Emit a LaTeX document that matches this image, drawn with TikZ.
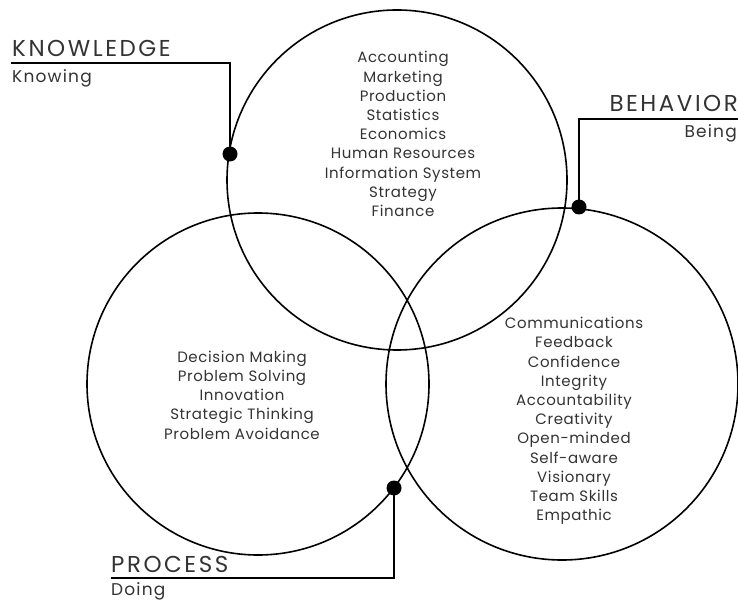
\documentclass[tikz,border=0pt]{standalone}
\usepackage{fontspec}
\setmainfont{Poppins}
\newfontfamily\headfont[LetterSpace=11]{Poppins}
\newfontfamily\subfont[LetterSpace=7]{Poppins}
\newfontfamily\itemfont[LetterSpace=4]{Poppins}
\definecolor{inkgray}{HTML}{333333}
\tikzset{
  ring/.style={circle,draw=black,line width=1.6pt,minimum size=#1,inner sep=0pt},
  dot/.style={circle,fill=black,minimum size=15pt,inner sep=0pt},
  lead/.style={line width=2.6pt},
  items/.style={align=center,text=inkgray,font=\itemfont\fontsize{15}{19.2}\selectfont},
  head/.style={text=inkgray,font=\headfont\fontsize{23}{23}\selectfont,inner sep=0pt},
  sub/.style={text=inkgray,font=\subfont\fontsize{17}{17}\selectfont,inner sep=0pt}
}
\begin{document}
\begin{tikzpicture}[x=1pt,y=-1pt]
  \useasboundingbox (0,0) rectangle (738,601);
  % the three circles
  \node[ring=340pt] (know) at (397,180) {};
  \node[ring=342pt] (proc) at (258,384) {};
  \node[ring=352pt] (behav) at (562,384) {};
  % contents
  \node[items] (knowitems) at (403,134) {Accounting\\Marketing\\Production\\Statistics\\Economics\\Human Resources\\Information System\\Strategy\\Finance};
  \node[items] (procitems) at (242,395) {Decision Making\\Problem Solving\\Innovation\\Strategic Thinking\\Problem Avoidance};
  \node[items] (behavitems) at (574,421) {Communications\\Feedback\\Confidence\\Integrity\\Accountability\\Creativity\\Open-minded\\Self-aware\\Visionary\\Team Skills\\Empathic};
  % labels
  \node[head,anchor=base west] (knowhead) at (12,57) {KNOWLEDGE};
  \node[sub,anchor=base west] (knowsub) at (12,83) {Knowing};
  \node[head,anchor=base east] (behavhead) at (738,112) {BEHAVIOR};
  \node[sub,anchor=base east] (behavsub) at (737,138) {Being};
  \node[head,anchor=base west] (prochead) at (111,572) {PROCESS};
  \node[sub,anchor=base west] (procsub) at (111,595) {Doing};
  % leaders
  \node[dot] (knowdot) at (230,154) {};
  \node[dot] (behavdot) at (579,207) {};
  \node[dot] (procdot) at (394,488) {};
  \coordinate (knowend) at (11,63);
  \coordinate (behavend) at (738,119);
  \coordinate (procend) at (111,578);
  \begin{scope}[lead]
    \draw (knowend) -| (knowdot.center);
    \draw (behavend) -| (behavdot.center);
    \draw (procend) -| (procdot.center);
  \end{scope}
\end{tikzpicture}
\end{document}
